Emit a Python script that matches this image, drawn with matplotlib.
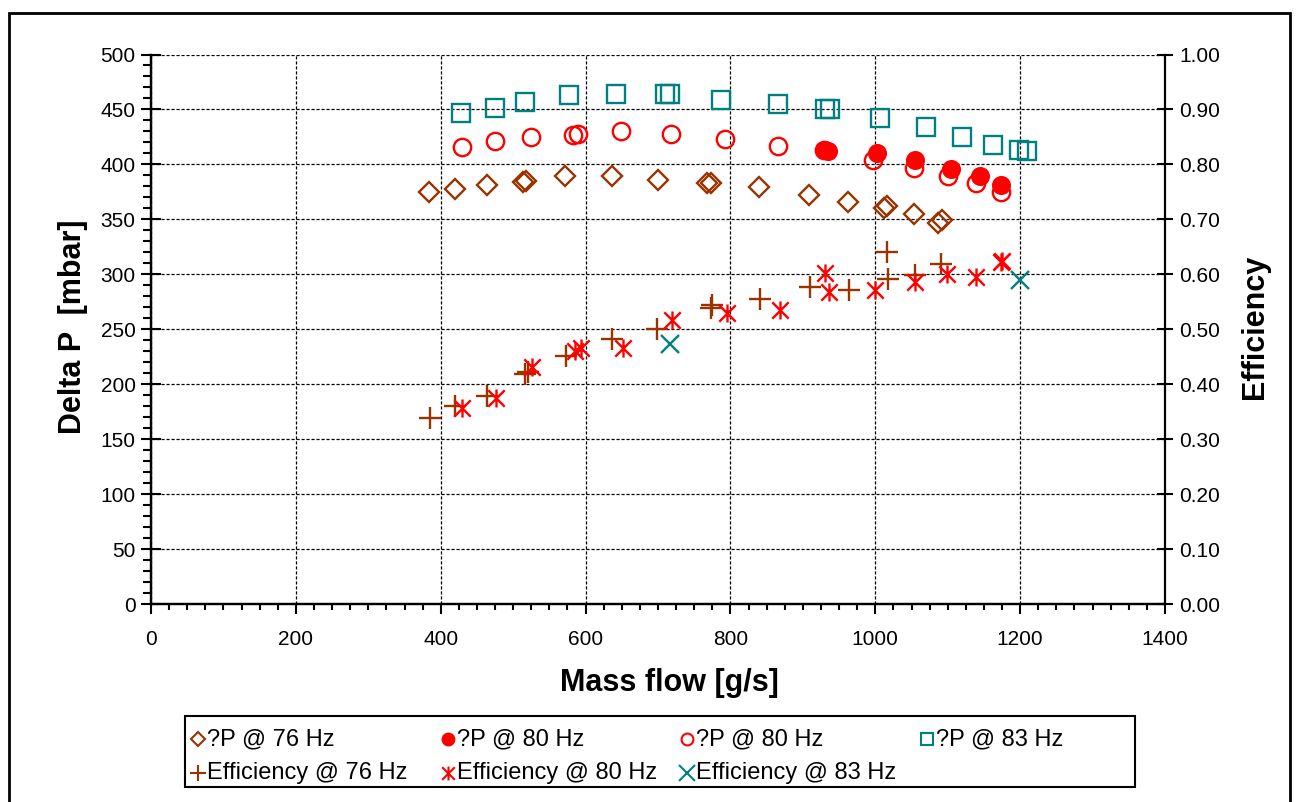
import numpy as np
import matplotlib
matplotlib.use("Agg")
import matplotlib.pyplot as plt
from matplotlib.path import Path
from matplotlib.lines import Line2D
from matplotlib.patches import Rectangle
from matplotlib.ticker import MultipleLocator, FormatStrFormatter

plt.rcParams["font.family"] = ["Liberation Sans", "DejaVu Sans"]

BROWN = "#993300"
RED = "#ff0000"
TEAL = "#008080"

# Delta P [mbar] vs mass flow [g/s]
dp76_x = [384, 420, 464, 514, 518, 572, 636, 700, 768, 773, 839, 908, 963, 1012, 1016, 1053, 1087, 1092]
dp76_y = [375, 378, 381, 384, 385, 389, 389, 386, 383, 383, 379, 372, 366, 360, 362, 355, 347, 349]

dp80f_x = [931, 935, 1002, 1055, 1104, 1144, 1173]
dp80f_y = [413, 412, 410, 404, 396, 389, 381]

dp80o_x = [429, 475, 525, 583, 589, 649, 718, 793, 866, 929, 997, 1053, 1101, 1139, 1173]
dp80o_y = [416, 421, 425, 427, 428, 430, 428, 423, 417, 413, 404, 397, 389, 383, 375]

dp83_x = [428, 475, 517, 577, 642, 710, 717, 787, 865, 931, 937, 1006, 1070, 1120, 1163, 1198, 1209]
dp83_y = [447, 451, 457, 463, 464, 464, 464, 459, 455, 450, 450, 442, 434, 425, 418, 413, 412]

# Efficiency vs mass flow
eff76_x = [385, 420, 464, 516, 521, 573, 637, 699, 773, 775, 841, 910, 964, 1016, 1017, 1055, 1091]
eff76_y = [0.339, 0.361, 0.379, 0.419, 0.423, 0.451, 0.482, 0.501, 0.539, 0.545, 0.555, 0.576,
           0.572, 0.641, 0.592, 0.598, 0.619]

eff80_x = [430, 476, 526, 585, 594, 651, 719, 795, 868, 931, 936, 1000, 1055, 1099, 1139, 1173, 1175]
eff80_y = [0.357, 0.375, 0.431, 0.461, 0.465, 0.465, 0.516, 0.530, 0.535, 0.602, 0.568, 0.571,
           0.586, 0.601, 0.595, 0.622, 0.624]

eff83_x = [716, 1200]
eff83_y = [0.473, 0.589]

legend_labels = ["?P @ 76 Hz", "?P @ 80 Hz", "?P @ 80 Hz", "?P @ 83 Hz",
                 "Efficiency @ 76 Hz", "Efficiency @ 80 Hz", "Efficiency @ 83 Hz"]

# excel style asterisk: an x with a vertical bar through it
star = Path([(-1, -1), (1, 1), (-1, 1), (1, -1), (0, -1.1), (0, 1.1)],
            [Path.MOVETO, Path.LINETO, Path.MOVETO, Path.LINETO, Path.MOVETO, Path.LINETO])

styles = [dict(marker="D", ms=7, mfc="none", mec=BROWN),
          dict(marker="o", ms=8.5, mfc=RED, mec=RED),
          dict(marker="o", ms=8.5, mfc="none", mec=RED),
          dict(marker="s", ms=8.5, mfc="none", mec=TEAL),
          dict(marker="+", ms=12, mec=BROWN),
          dict(marker=star, ms=10, mfc="none", mec=RED),
          dict(marker="x", ms=11, mec=TEAL)]

fig = plt.figure(figsize=(12.98, 8.02), dpi=100)
ax = fig.add_axes([151 / 1298, 1 - 604 / 802, 1014 / 1298, 549.5 / 802])
ax2 = ax.twinx()

mew = 1.7
ax.plot(dp76_x, dp76_y, ls="none", marker="D", ms=10, mfc="none", mec=BROWN, mew=mew)
ax.plot(dp80o_x, dp80o_y, ls="none", marker="o", ms=12.5, mfc="none", mec=RED, mew=mew)
ax.plot(dp80f_x, dp80f_y, ls="none", marker="o", ms=12, mfc=RED, mec=RED, mew=mew)
ax.plot(dp83_x, dp83_y, ls="none", marker="s", ms=12.5, mfc="none", mec=TEAL, mew=mew)

ax2.plot(eff76_x, eff76_y, ls="none", marker="+", ms=16, mec=BROWN, mew=mew)
ax2.plot(eff80_x, eff80_y, ls="none", marker=star, ms=13, mfc="none", mec=RED, mew=mew)
ax2.plot(eff83_x, eff83_y, ls="none", marker="x", ms=12.5, mec=TEAL, mew=mew)

ax.set_xlim(0, 1400)
ax.set_ylim(0, 500)
ax2.set_ylim(0, 1)
ax.xaxis.set_major_locator(MultipleLocator(200))
ax.xaxis.set_minor_locator(MultipleLocator(25))
ax.yaxis.set_major_locator(MultipleLocator(50))
ax.yaxis.set_minor_locator(MultipleLocator(10))
ax2.yaxis.set_major_locator(MultipleLocator(0.1))
ax2.yaxis.set_major_formatter(FormatStrFormatter("%.2f"))

ax.grid(True, which="major", color="black", lw=0.9, ls=(0, (2.5, 1.5)))
ax.set_axisbelow(True)

for a in (ax, ax2):
    a.spines["top"].set_visible(False)
    for s in a.spines.values():
        s.set_linewidth(1.6)
ax.spines["right"].set_visible(False)

ax.tick_params(axis="x", which="major", direction="out", length=7, width=1.5, labelsize=15, pad=12)
ax.tick_params(axis="x", which="minor", direction="out", length=4, width=1.5)
ax.tick_params(axis="y", which="major", direction="inout", length=14, width=1.5, labelsize=15, pad=4)
ax.tick_params(axis="y", which="minor", direction="out", length=6, width=1.5)
ax2.tick_params(axis="y", which="major", direction="inout", length=12, width=1.5, labelsize=15, pad=4)

fig.text(669 / 1298, 1 - 683 / 802, "Mass flow [g/s]", fontsize=22, fontweight="bold",
         ha="center", va="center")
fig.text(73 / 1298, 1 - 327 / 802, "Delta P  [mbar]", fontsize=22, fontweight="bold",
         ha="center", va="center", rotation=90)
fig.text(1255 / 1298, 1 - 327 / 802, "Efficiency", fontsize=22, fontweight="bold",
         ha="center", va="center", rotation=90)

# legend box laid out like the excel one: fixed columns, two rows
fig.patches.append(Rectangle((185 / 1298, 1 - 787 / 802), 950 / 1298, 71 / 802,
                             transform=fig.transFigure, fill=False, ec="black", lw=1.5))
col_x = [198, 448, 687, 927]
row_y = [739, 773]
slots = [(0, 0), (1, 0), (2, 0), (3, 0), (0, 1), (1, 1), (2, 1)]
for (c, r), lab, st in zip(slots, legend_labels, styles):
    x = col_x[c] / 1298
    y = 1 - row_y[r] / 802
    fig.add_artist(Line2D([x], [y], ls="none", mew=1.5, transform=fig.transFigure, **st))
    fig.text(x + 9 / 1298, y, lab, fontsize=17, va="center", ha="left")

# outer chart frame
fig.patches.append(Rectangle((9 / 1298, -0.05), 1281 / 1298, 1.05 - 13 / 802,
                             transform=fig.transFigure, fill=False, ec="black", lw=2))

fig.savefig("out.png", dpi=100, facecolor="white")
